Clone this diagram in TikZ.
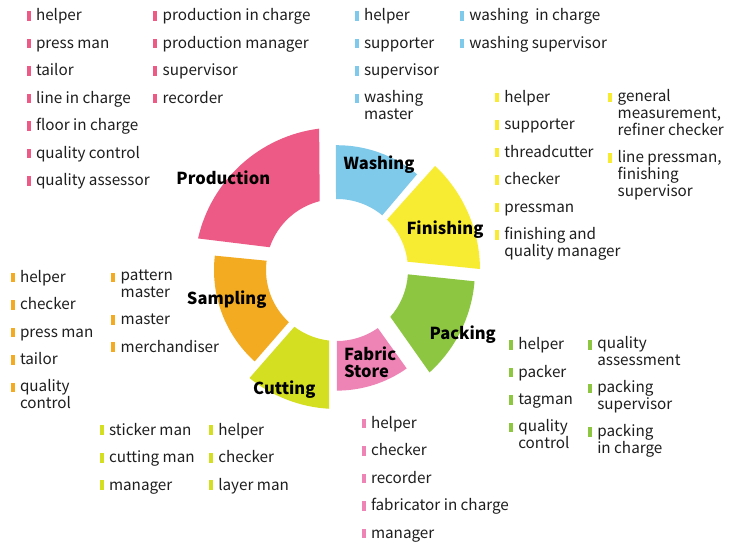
\documentclass[tikz,border=0pt]{standalone}
\usepackage{fontspec}
\setmainfont{Noto Sans CJK SC}
\usetikzlibrary{positioning}
\definecolor{prodpink}{HTML}{EC5A85}
\definecolor{washblue}{HTML}{7FC9EA}
\definecolor{finyellow}{HTML}{F8EC33}
\definecolor{packgreen}{HTML}{8DC641}
\definecolor{fabricpink}{HTML}{EE84B5}
\definecolor{cutlime}{HTML}{D5DF22}
\definecolor{sampleorange}{HTML}{F3AB22}
\definecolor{inkgray}{HTML}{1E1E1E}

\newcommand\rolefont{\fontsize{15.25}{17}\selectfont}
\newcommand\stagefont{\fontsize{16.5}{17}\selectfont\bfseries}
\newcommand\topstrut{\rule{0pt}{13pt}}

% one piece of the ring: colour, outer start/end, inner start/end, outer radius
\newcommand\ringpiece[6]{%
  \fill[#1] (#2:#6) arc[start angle=#2, end angle=#3, radius=#6]
    -- (#5:71) arc[start angle=#5, end angle=#4, radius=71] -- cycle;}

% a column of roles stacked under each other, each with a colour bar
\newcommand\rolelist[4]{%
  \foreach \txt [count=\i, remember=\i as \prev (initially 0)] in {#4}{%
    \ifnum\i=1
      \node[role] (#1\i) at (#3) {\txt};
    \else
      \node[role, below=9.4pt of #1\prev.south west, anchor=north west] (#1\i) {\txt};
    \fi
    \fill[#2] ([xshift=-9.5pt, yshift=-3.3pt]#1\i.north west) rectangle ++(4,-9.7);
  }}

\begin{document}
\begin{tikzpicture}[x=1pt, y=1pt,
    role/.style={anchor=north west, inner sep=0pt, outer sep=0pt, align=left,
      font=\rolefont, text=inkgray, execute at begin node=\topstrut,
      execute at end node=\strut},
    stage/.style={font=\stagefont, text=black, inner sep=0pt, anchor=base}
  ]
  \path[fill=white] (0,0) rectangle (734,-542);

  % the ring
  \begin{scope}[shift={(337,-270)}]
    \ringpiece{prodpink}{97.2}{167.2}{104.1}{161.3}{142.5}
    \ringpiece{washblue}{50.1}{90.5}{50.4}{90.8}{124.8}
    \ringpiece{finyellow}{0.4}{46.7}{6.7}{45.2}{143}
    \ringpiece{packgreen}{-47.9}{-4.7}{-41.3}{-3.5}{138}
    \ringpiece{fabricpink}{-90.1}{-54.7}{-90.2}{-54.9}{120.6}
    \ringpiece{cutlime}{-129}{-93.2}{-126.9}{-96.4}{139}
    \ringpiece{sampleorange}{173.3}{228}{172.5}{227.3}{123}
  \end{scope}

  % stage names
  \node[stage] (production) at (223.3,-184.8) {Production};
  \node[stage] (washing) at (379,-169.2) {Washing};
  \node[stage] (finishing) at (445,-234.5) {Finishing};
  \node[stage] (packing) at (462.7,-339.1) {Packing};
  \node[stage, anchor=west, align=left] (fabric) at (344,-362.5) {Fabric\\Store};
  \node[stage] (cutting) at (284.3,-394.1) {Cutting};
  \node[stage] (sampling) at (226.7,-304.8) {Sampling};

  % roles
  \rolelist{prA}{prodpink}{36,-7.7}{helper, press man, tailor, line in charge,
    floor in charge, quality control, quality assessor}
  \rolelist{prB}{prodpink}{162.7,-7.7}{production in charge, production manager,
    supervisor, recorder}
  \rolelist{waA}{washblue}{364,-7.7}{helper, supporter, supervisor, washing\\master}
  \rolelist{waB}{washblue}{469.3,-7.7}{washing\ \ in charge, washing supervisor}
  \rolelist{fiA}{finyellow}{504.3,-89.4}{helper, supporter, threadcutter, checker,
    pressman, finishing and\\quality manager}
  \rolelist{fiB}{finyellow}{617.7,-89.4}{{general\\measurement,\\refiner checker},
    {line pressman,\\finishing\\supervisor}}
  \rolelist{saA}{sampleorange}{20,-269.4}{helper, checker, press man, tailor,
    quality\\control}
  \rolelist{saB}{sampleorange}{120.7,-269.4}{pattern\\master, master, merchandiser}
  \rolelist{cuA}{cutlime}{109,-422}{sticker man, cutting man, manager}
  \rolelist{cuB}{cutlime}{218.3,-422}{helper, checker, layer man}
  \rolelist{faA}{fabricpink}{371,-415.4}{helper, checker, recorder,
    fabricator in charge, manager}
  \rolelist{paA}{packgreen}{518.3,-336.7}{helper, packer, tagman, quality\\control}
  \rolelist{paB}{packgreen}{597.3,-336.7}{quality\\assessment, packing\\supervisor,
    packing\\in charge}
\end{tikzpicture}
\end{document}
